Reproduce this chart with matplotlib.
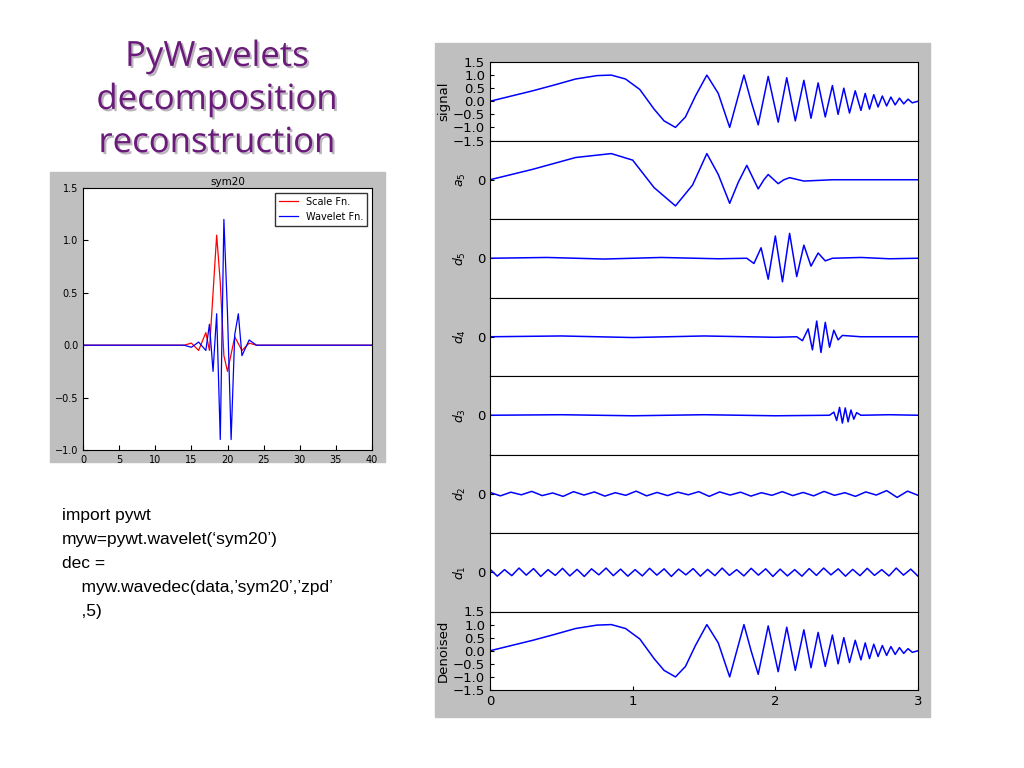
import numpy as np
import matplotlib.pyplot as plt
from matplotlib.patches import Rectangle
import matplotlib.patheffects as pe

# signal extrema (time, value)
sig_t = [0, 0.15, 0.3, 0.45, 0.6, 0.75, 0.85, 0.95, 1.05, 1.15, 1.22, 1.3, 1.37, 1.44, 1.52, 1.6, 1.68, 1.73, 1.78, 1.83,
         1.88, 1.95, 2.02, 2.08, 2.14, 2.2, 2.25, 2.3, 2.35, 2.4, 2.44, 2.48, 2.52, 2.56, 2.6, 2.63, 2.66, 2.69, 2.72,
         2.75, 2.78, 2.81, 2.84, 2.87, 2.9, 2.93, 2.96, 3.0]
sig_v = [0, 0.2, 0.4, 0.62, 0.85, 0.98, 1.0, 0.85, 0.45, -0.3, -0.75, -1.0, -0.6, 0.2, 1.0, 0.3, -1.0, 0.0, 1.0, 0.0,
         -0.9, 0.95, -0.8, 0.9, -0.75, 0.8, -0.65, 0.7, -0.6, 0.6, -0.5, 0.5, -0.45, 0.4, -0.35, 0.3, -0.3, 0.25, -0.22,
         0.2, -0.18, 0.16, -0.14, 0.12, -0.1, 0.08, -0.06, 0.0]
a5_t = [0, 0.3, 0.6, 0.85, 1.0, 1.15, 1.3, 1.42, 1.52, 1.6, 1.68, 1.74, 1.8, 1.84, 1.88, 1.92, 1.95, 1.99, 2.02, 2.06, 2.1, 2.2, 2.4, 3.0]
a5_v = [0, 0.4, 0.85, 1.0, 0.75, -0.3, -1.0, -0.2, 1.0, 0.2, -0.9, -0.1, 0.55, 0.1, -0.35, 0.0, 0.2, 0.0, -0.15, 0.0, 0.08, -0.05, 0.0, 0.0]
d5_t = [0, 0.4, 0.8, 1.2, 1.6, 1.8, 1.85, 1.9, 1.95, 2.0, 2.05, 2.1, 2.15, 2.2, 2.25, 2.3, 2.35, 2.4, 2.6, 2.8, 3.0]
d5_v = [0, 0.03, -0.03, 0.03, -0.02, 0, -0.2, 0.4, -0.8, 0.85, -0.9, 0.95, -0.7, 0.5, -0.3, 0.2, -0.1, 0, 0.03, -0.02, 0]
d4_t = [0, 0.5, 1.0, 1.5, 2.0, 2.15, 2.19, 2.23, 2.26, 2.29, 2.32, 2.35, 2.38, 2.41, 2.44, 2.47, 2.6, 3.0]
d4_v = [0, 0.03, -0.03, 0.03, -0.02, 0, -0.15, 0.3, -0.5, 0.6, -0.6, 0.55, -0.4, 0.25, -0.12, 0.05, 0, 0]
d3_t = [0, 0.5, 1.0, 1.5, 2.0, 2.38, 2.41, 2.43, 2.45, 2.47, 2.49, 2.51, 2.53, 2.55, 2.57, 2.6, 2.8, 3.0]
d3_v = [0, 0.02, -0.02, 0.02, -0.02, 0, 0.12, -0.2, 0.3, -0.3, 0.28, -0.25, 0.2, -0.15, 0.1, 0, 0.02, 0]
d2_v = [0.05, -0.08, 0.06, -0.04, 0.09, -0.07, 0.03, -0.1, 0.08, -0.05, 0.07, -0.09, 0.04, -0.06, 0.1, -0.08,
        0.05, -0.07, 0.06, -0.04, 0.08, -0.1, 0.07, -0.05, 0.06, -0.09, 0.04, -0.06, 0.08, -0.07, 0.05, -0.08,
        0.09, -0.06, 0.04, -0.1, 0.07, -0.05, 0.12, -0.14, 0.1, -0.06]
d1_v = [0.12, -0.15, 0.1, -0.13, 0.16, -0.11, 0.14, -0.16, 0.1, -0.12, 0.15, -0.14, 0.11, -0.16, 0.13, -0.1,
        0.16, -0.13, 0.12, -0.15, 0.1, -0.14, 0.15, -0.11, 0.13, -0.16, 0.12, -0.1, 0.14, -0.15, 0.11, -0.13,
        0.16, -0.12, 0.1, -0.14, 0.15, -0.11, 0.13, -0.16, 0.12, -0.14, 0.1, -0.15, 0.14, -0.12, 0.16, -0.1,
        0.13, -0.15, 0.11, -0.13, 0.15, -0.12, 0.1, -0.14, 0.16, -0.11, 0.12, -0.15]

# sym20 functions
sc_x = [0, 14, 15, 16, 17, 17.5, 18, 18.5, 19, 19.5, 20, 21, 22, 23, 24, 40]
sc_y = [0, 0, 0.02, -0.05, 0.12, -0.05, 0.5, 1.05, 0.6, -0.1, -0.25, 0.08, -0.05, 0.02, 0, 0]
wv_x = [0, 14, 15, 16, 17, 17.5, 18, 18.5, 19, 19.5, 20, 20.5, 21, 21.5, 22, 23, 24, 40]
wv_y = [0, 0, -0.02, 0.03, -0.05, 0.2, -0.25, 0.3, -0.9, 1.2, 0.3, -0.9, 0.1, 0.3, -0.1, 0.05, 0, 0]

fig = plt.figure(figsize=(10.24, 7.68), dpi=100)
fig.patch.set_facecolor('white')
W, H = 1024, 768

def fbox(x0, y0, x1, y1):
    return [x0 / W, 1 - y1 / H, (x1 - x0) / W, (y1 - y0) / H]

fig.patches.append(Rectangle((435 / W, 1 - 717 / H), 495 / W, 674 / H, transform=fig.transFigure, color='#bfbfbf', zorder=-5))
fig.patches.append(Rectangle((50 / W, 1 - 462 / H), 335 / W, 290 / H, transform=fig.transFigure, color='#bfbfbf', zorder=-5))

fig.text(217 / W, 1 - 100 / H, 'PyWavelets\ndecomposition\nreconstruction', ha='center', va='center',
         fontsize=25, color='#6a1b7a', family='Open Sans', linespacing=1.35,
         path_effects=[pe.withSimplePatchShadow(offset=(1.5, -1.5), alpha=0.3)])

code = "import pywt\nmyw=pywt.wavelet(\u2018sym20\u2019)\ndec =\n    myw.wavedec(data,\u2019sym20\u2019,\u2019zpd\u2019\n    ,5)"
fig.text(62 / W, 1 - 508 / H, code, ha='left', va='top', fontsize=12.5, family='Liberation Sans', linespacing=1.75)

ax = fig.add_axes(fbox(83, 188, 372, 450))
ax.plot(sc_x, sc_y, color='red', lw=0.9, label='Scale Fn.')
ax.plot(wv_x, wv_y, color='blue', lw=0.9, label='Wavelet Fn.')
ax.set_xlim(0, 40)
ax.set_ylim(-1.0, 1.5)
ax.set_yticks([-1.0, -0.5, 0.0, 0.5, 1.0, 1.5])
ax.tick_params(labelsize=7, direction='in')
ax.set_title('sym20', fontsize=7.5, pad=2)
ax.legend(loc='upper right', fontsize=7, frameon=True, fancybox=False, edgecolor='black')

t2 = np.linspace(0, 3, len(d2_v))
t1 = np.linspace(0, 3, len(d1_v))
rows = [(sig_t, sig_v, 'signal'), (a5_t, a5_v, '$a_5$'), (d5_t, d5_v, '$d_5$'), (d4_t, d4_v, '$d_4$'),
        (d3_t, d3_v, '$d_3$'), (t2, d2_v, '$d_2$'), (t1, d1_v, '$d_1$'), (sig_t, sig_v, 'Denoised')]
top, bot = 62, 690
h = (bot - top) / len(rows)
for i, (tx, vy, lab) in enumerate(rows):
    a = fig.add_axes(fbox(490, top + i * h, 918, top + (i + 1) * h))
    a.plot(tx, vy, color='blue', lw=1.1)
    a.set_xlim(0, 3)
    a.set_ylim(-1.5, 1.5)
    a.tick_params(direction='in', labelsize=9.5, length=3)
    if i in (0, 7):
        a.set_yticks([-1.5, -1.0, -0.5, 0.0, 0.5, 1.0, 1.5])
        a.set_ylabel(lab, fontsize=9.5, labelpad=2)
    else:
        a.set_yticks([0])
        a.set_ylabel(lab, fontsize=9, labelpad=6)
    if i == 7:
        a.set_xticks([0, 1, 2, 3])
    else:
        a.set_xticks([])

plt.savefig('out.png', dpi=100)
